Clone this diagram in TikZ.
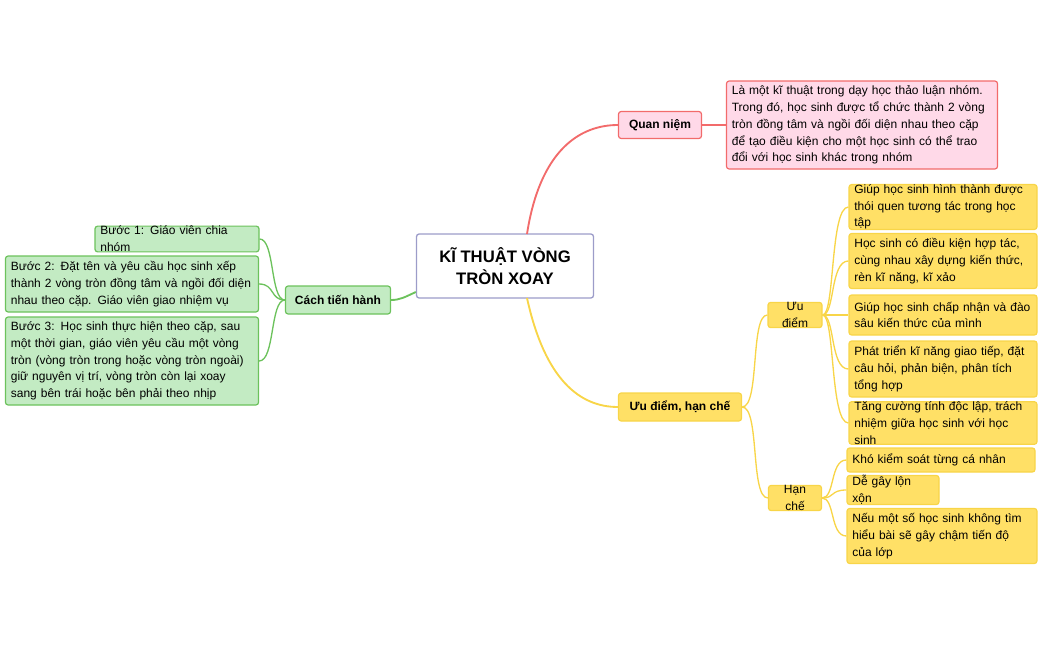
\documentclass[tikz,border=0pt]{standalone}
\usepackage{fontspec}
\setmainfont{Liberation Sans}
\begin{document}
\definecolor{pk}{HTML}{FFD9E8}\definecolor{pkb}{HTML}{F26B6B}
\definecolor{gr}{HTML}{C3EBC3}\definecolor{grb}{HTML}{6CC25C}
\definecolor{ye}{HTML}{FFE066}\definecolor{yeb}{HTML}{F8D548}
\begin{tikzpicture}[x=0.75pt,y=-0.75pt,
 base/.style={rounded corners=2pt,line width=0.9pt,font=\fontsize{9}{12.6}\selectfont,align=left,inner sep=0pt,anchor=center},
 box/.style 2 args={base,minimum width=#1*0.75pt,minimum height=#2*0.75pt,text width=#1*0.75pt-8pt},
 pkn/.style={fill=pk,draw=pkb},grn/.style={fill=gr,draw=grb},yen/.style={fill=ye,draw=yeb},
 lab/.style={font=\bfseries\fontsize{9}{11}\selectfont,align=center,text width={}},
 lr/.style={draw=pkb,line width=1.4pt},lg/.style={draw=grb,line width=1pt},ly/.style={draw=yeb,line width=1pt}]
\useasboundingbox (0,0) rectangle (1043,646);
\node[base,draw=gray!70!blue!60,line width=1pt,fill=white,minimum width=177*0.75pt,minimum height=64*0.75pt,font=\bfseries\fontsize{12.5}{16}\selectfont,align=center] (root) at (505,266) {KĨ THUẬT VÒNG\\TRÒN XOAY};
\node[box={83}{27},pkn,lab] (qn) at (660,125) {Quan niệm};
\node[box={271}{88},pkn] (qnd) at (862,125) {Là một kĩ thuật trong dạy học thảo luận nhóm. Trong đó, học sinh được tổ chức thành 2 vòng tròn đồng tâm và ngồi đối diện nhau theo cặp để tạo điều kiện cho một học sinh có thể trao đổi với học sinh khác trong nhóm};
\node[box={123}{28},yen,lab] (uh) at (680,407) {Ưu điểm, hạn chế};
\node[box={54}{24},yen,align=center] (ud) at (795,315) {Ưu điểm};
\node[box={53}{25},yen,align=center] (hc) at (795,498) {Hạn chế};
\node[box={188}{40},yen] (u1) at (943,207) {Giúp học sinh hình thành được thói quen tương tác trong học tập};
\node[box={188}{55},yen] (u2) at (943,261) {Học sinh có điều kiện hợp tác, cùng nhau xây dựng kiến thức, rèn kĩ năng, kĩ xảo};
\node[box={188}{40},yen] (u3) at (943,315) {Giúp học sinh chấp nhận và đào sâu kiến thức của mình};
\node[box={188}{56},yen] (u4) at (943,369) {Phát triển kĩ năng giao tiếp, đặt câu hỏi, phản biện, phân tích tổng hợp};
\node[box={188}{40},yen] (u5) at (943,423) {Tăng cường tính độc lập, trách nhiệm giữa học sinh với học sinh};
\node[box={188}{24},yen] (h1) at (941,460) {Khó kiểm soát từng cá nhân};
\node[box={92}{25},yen] (h2) at (893,490) {Dễ gây lộn xộn};
\node[box={190}{55},yen] (h3) at (942,536) {Nếu một số học sinh không tìm hiểu bài sẽ gây chậm tiến độ của lớp};
\node[box={105}{28},grn,lab] (ct) at (338,300) {Cách tiến hành};
\node[box={164}{24},grn] (b1) at (177,239) {Bước 1: Giáo viên chia nhóm};
\node[box={253}{56},grn] (b2) at (132,284) {Bước 2: Đặt tên và yêu cầu học sinh xếp thành 2 vòng tròn đồng tâm và ngồi đối diện nhau theo cặp. Giáo viên giao nhiệm vụ};
\node[box={253}{88},grn] (b3) at (132,361) {Bước 3: Học sinh thực hiện theo cặp, sau một thời gian, giáo viên yêu cầu một vòng tròn (vòng tròn trong hoặc vòng tròn ngoài) giữ nguyên vị trí, vòng tròn còn lại xoay sang bên trái hoặc bên phải theo nhịp};
\coordinate (rt) at (527,234);\coordinate (rb) at (527,298);
\draw[lr] (rt) .. controls (540,150) and (580,125) .. (qn.west);
\draw[pkb,line width=1pt] (qn.east) -- (qnd.west);
\draw[draw=yeb,line width=1.4pt] (rb) .. controls (545,380) and (580,407) .. (uh.west);
\draw[draw=grb,line width=1.4pt] (root.west|-ct.east) ++(0,-8) coordinate (rl) (rl) .. controls (405,297) and (400,300) .. (ct.east);
\foreach \n in {u1,u2,u3,u4,u5}\draw[ly] (ud.east) .. controls (835,315) and (830,0|-\n.west) .. (\n.west);
\foreach \n in {h1,h2,h3}\draw[ly] (hc.east) .. controls (835,498) and (830,0|-\n.west) .. (\n.west);
\foreach \n in {ud,hc}\draw[ly] (uh.east) .. controls (760,407) and (750,0|-\n.west) .. (\n.west);
\foreach \n in {b1,b2,b3}\draw[lg] (ct.west) .. controls (270,300) and (275,0|-\n.east) .. (\n.east);
\end{tikzpicture}
\end{document}
